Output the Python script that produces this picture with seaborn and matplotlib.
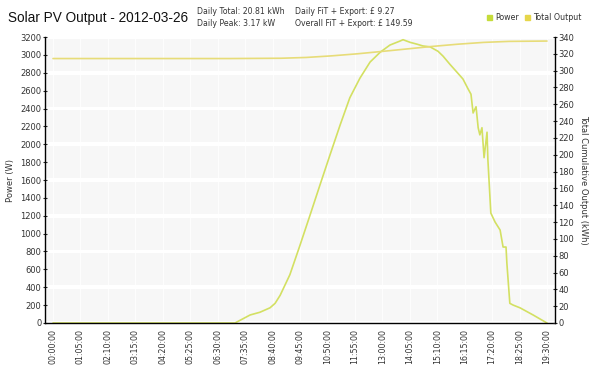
import numpy as np
import pandas as pd
import matplotlib
matplotlib.use("Agg")
import matplotlib.pyplot as plt
import seaborn as sns

# power readings (minutes after midnight, watts)
POWER_MIN = [0, 431, 443, 467, 490, 514, 526, 538, 561, 585, 609, 632, 656, 680,
             703, 727, 751, 775, 798, 822, 829, 846, 862, 876, 893, 912, 924,
             940, 957, 971, 983, 990, 995, 1002, 1007, 1011, 1016, 1021, 1028,
             1030, 1037, 1047, 1059, 1066, 1073, 1075, 1082, 1090, 1106, 1137, 1170]
POWER_W = [0, 0, 30, 90, 120, 170, 220, 310, 540, 870, 1210, 1540, 1880, 2215,
           2520, 2740, 2920, 3030, 3110, 3155, 3170, 3140, 3120, 3100, 3090, 3040, 2985,
           2895, 2805, 2730, 2620, 2560, 2350, 2420, 2185, 2105, 2185, 1850, 2135,
           1830, 1230, 1130, 1040, 850, 850, 670, 220, 200, 170, 90, 0]

# cumulative meter reading (kWh)
TOTAL_MIN = [0, 420, 540, 600, 660, 720, 780, 840, 900, 960, 1020, 1080, 1170]
TOTAL_KWH = [314.4, 314.4, 314.75, 315.7, 317.6, 320.0, 322.9, 325.9, 328.9,
             331.5, 333.6, 334.8, 335.2]

TICK_MIN = list(range(0, 1171, 65))
TICK_LABELS = [f"{m // 60:02d}:{m % 60:02d}:00" for m in TICK_MIN]

POWER_COLOR = "#d3e062"
TOTAL_COLOR = "#e7dc78"
TEXT_COLOR = "#333333"

sns.set_theme(style="white")
plt.rcParams["font.family"] = ["DejaVu Sans"]

power = pd.DataFrame({"minute": POWER_MIN, "watts": POWER_W})
total = pd.DataFrame({"minute": TOTAL_MIN, "kwh": TOTAL_KWH})

fig = plt.figure(figsize=(6, 3.75), dpi=100)
ax = fig.add_axes([0.075, 0.1387, 0.85, 0.7626])
ax2 = ax.twinx()

# faint background bands
for v in range(0, 3200, 400):
    ax.axhspan(v + 20, v + 380, color="#f7f7f7", lw=0, zorder=0)
for m in TICK_MIN:
    ax.axvline(m, color="white", lw=0.6, zorder=0.5)

sns.lineplot(data=power, x="minute", y="watts", ax=ax, color=POWER_COLOR, lw=1.2)
sns.lineplot(data=total, x="minute", y="kwh", ax=ax2, color=TOTAL_COLOR, lw=1.2)

ax.set_xlim(-19, 1189)
ax.set_ylim(0, 3200)
ax2.set_ylim(0, 340)
ax.set_yticks(range(0, 3201, 200))
ax2.set_yticks(range(0, 341, 20))
ax.set_xticks(TICK_MIN)
ax.set_xticklabels(TICK_LABELS, rotation=90, fontsize=5.7, color=TEXT_COLOR)
ax.tick_params(axis="y", labelsize=6, labelcolor=TEXT_COLOR, length=3, direction="inout", width=0.8, pad=1)
ax2.tick_params(axis="y", labelsize=6, labelcolor=TEXT_COLOR, length=3, direction="inout", width=0.8, pad=1)
ax.tick_params(axis="x", length=3, direction="inout", width=0.6, pad=3)
ax.set_xlabel("")
ax.set_ylabel("Power (W)", fontsize=6, color=TEXT_COLOR, labelpad=4)
ax2.set_ylabel("Total Cumulative Output (kWh)", fontsize=6, color=TEXT_COLOR, rotation=270, labelpad=10)

for a in (ax, ax2):
    a.spines["top"].set_visible(False)
    for s in ("left", "right", "bottom"):
        a.spines[s].set_color("black")
        a.spines[s].set_linewidth(1.0)
ax.spines["right"].set_visible(False)
ax2.spines["left"].set_visible(False)
ax2.spines["bottom"].set_visible(False)

# header texts
fig.text(8 / 600, 1 - 18 / 375, "Solar PV Output - 2012-03-26", fontsize=9.8,
         family="Liberation Sans", va="center", ha="left", color="#111111")
fig.text(197 / 600, 1 - 12 / 375, "Daily Total: 20.81 kWh", fontsize=5.6, va="center", color=TEXT_COLOR)
fig.text(197 / 600, 1 - 23 / 375, "Daily Peak: 3.17 kW", fontsize=5.6, va="center", color=TEXT_COLOR)
fig.text(295 / 600, 1 - 12 / 375, "Daily FiT + Export: \u00a3 9.27", fontsize=5.6, va="center", color=TEXT_COLOR)
fig.text(295 / 600, 1 - 23 / 375, "Overall FiT + Export: \u00a3 149.59", fontsize=5.6, va="center", color=TEXT_COLOR)

fig.patches.append(plt.Rectangle((487 / 600, 1 - 20 / 375), 5 / 600, 5 / 375,
                                 transform=fig.transFigure, color="#c5dc3a"))
fig.text(495 / 600, 1 - 17.5 / 375, "Power", fontsize=5.7, va="center", color=TEXT_COLOR)
fig.patches.append(plt.Rectangle((525 / 600, 1 - 20 / 375), 5 / 600, 5 / 375,
                                 transform=fig.transFigure, color="#e6d64a"))
fig.text(533 / 600, 1 - 17.5 / 375, "Total Output", fontsize=5.7, va="center", color=TEXT_COLOR)

fig.savefig("out.png", dpi=100)
